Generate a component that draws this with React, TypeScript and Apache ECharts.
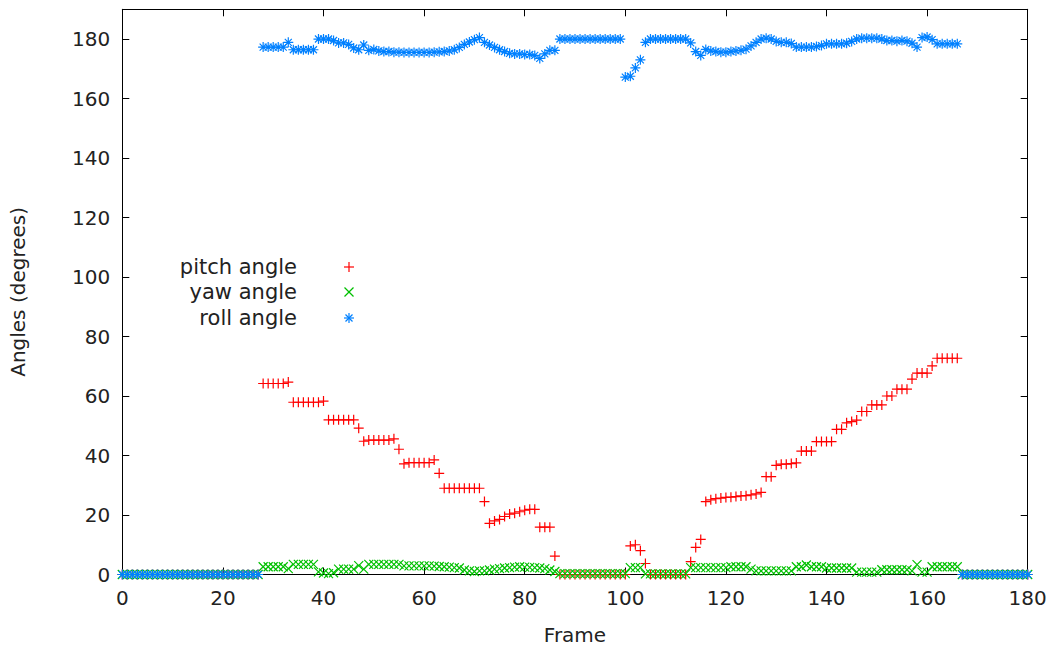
import React, { useEffect, useRef } from "react";
import * as echarts from "echarts";

// Frames 0..180
const frames: number[] = Array.from({ length: 181 }, (_, i) => i);

// pitch angle values for frames 0..180
const pitch: number[] = [
  // 0-27
  0, 0, 0, 0, 0, 0, 0, 0, 0, 0, 0, 0, 0, 0, 0, 0, 0, 0, 0, 0, 0, 0, 0, 0, 0, 0, 0, 0,
  // 28-40
  64.2, 64.2, 64.2, 64.2, 64.2, 64.7, 57.9, 57.9, 57.9, 57.9, 57.9, 57.9, 58.3,
  // 41-55
  52, 52, 52, 52, 52, 52, 49.2, 44.8, 45.2, 45.2, 45.2, 45.2, 45.2, 45.6, 42.1,
  // 56-72
  37.2, 37.6, 37.6, 37.6, 37.6, 37.6, 38.5, 34, 29, 29, 29, 29, 29, 29, 29, 29, 24.5,
  // 73-86
  17.2, 18, 18.5, 19.5, 20.3, 20.6, 21.1, 21.6, 21.9, 21.9, 15.9, 15.9, 15.9, 6.2,
  // 87-100
  0, 0, 0, 0, 0, 0, 0, 0, 0, 0, 0, 0, 0, 0,
  // 101-104
  9.6, 10, 8, 3.7,
  // 105-112
  0, 0, 0, 0, 0, 0, 0, 0,
  // 113-127
  4.3, 9.1, 11.8, 24.5, 25.1, 25.5, 25.7, 25.9, 26, 26.2, 26.4, 26.5, 26.8, 27.1, 27.6,
  // 128-146
  32.9, 32.9, 36.7, 37.1, 37.1, 37.3, 37.5, 41.5, 41.5, 41.5, 44.7, 44.7, 44.7, 44.7, 48.8, 48.8, 51, 51.4, 51.9,
  // 147-166
  54.8, 54.8, 57, 57, 57, 60, 60, 62.3, 62.3, 62.3, 65.7, 67.7, 67.7, 67.7, 70.1, 72.7, 72.7, 72.7, 72.7, 72.7,
  // 167-180
  0, 0, 0, 0, 0, 0, 0, 0, 0, 0, 0, 0, 0, 0,
];

// yaw angle values for frames 0..180
const yaw: number[] = [
  // 0-27
  0, 0, 0, 0, 0, 0, 0, 0, 0, 0, 0, 0, 0, 0, 0, 0, 0, 0, 0, 0, 0, 0, 0, 0, 0, 0, 0, 0,
  // 28-48
  2.6, 2.6, 2.6, 2.6, 2.6, 2, 3.4, 3.4, 3.4, 3.4, 3.4, 0.9, 0.5, 0.3, 0.6, 1.8, 1.8, 1.8, 1.8, 3, 1.8,
  // 49-67
  3.4, 3.4, 3.4, 3.4, 3.4, 3.4, 3.4, 2.9, 2.9, 2.9, 2.9, 2.9, 2.9, 2.8, 2.7, 2.6, 2.5, 2.3, 2.2,
  // 68-86
  1.5, 1.2, 1, 1.2, 1.2, 1.5, 1.8, 2, 2.2, 2.3, 2.5, 2.6, 2.5, 2.4, 2.3, 2.2, 2, 1.5, 1,
  // 87-100
  0.3, 0.3, 0.3, 0.3, 0.3, 0.3, 0.3, 0.3, 0.3, 0.3, 0.3, 0.3, 0.3, 0.3,
  // 101-112
  2.3, 2.3, 2.3, 0.2, 0.2, 0.2, 0.2, 0.2, 0.2, 0.2, 0.2, 0.2,
  // 113-133
  2.3, 2.3, 2.3, 2.3, 2.3, 2.3, 2.3, 2.3, 2.6, 2.6, 2.6, 2.6, 1.8, 1.2, 1.2, 1.2, 1.2, 1.2, 1.2, 1.2, 1.2,
  // 134-150
  2.6, 2.6, 3.2, 2.6, 2.6, 2.6, 2.2, 2.2, 2.2, 2.2, 2.2, 2.2, 0.8, 0.8, 0.8, 0.8, 0.8,
  // 151-166
  1.6, 1.6, 1.6, 1.6, 1.6, 1.6, 1.2, 3.3, 0.8, 0.8, 2.6, 2.6, 2.6, 2.6, 2.6, 2.6,
  // 167-180
  0, 0, 0, 0, 0, 0, 0, 0, 0, 0, 0, 0, 0, 0,
];

// roll angle values for frames 0..180
const roll: number[] = [
  // 0-27
  0, 0, 0, 0, 0, 0, 0, 0, 0, 0, 0, 0, 0, 0, 0, 0, 0, 0, 0, 0, 0, 0, 0, 0, 0, 0, 0, 0,
  // 28-48
  177.3, 177.3, 177.3, 177.3, 177.3, 178.9, 176.4, 176.4, 176.4, 176.4, 176.4, 180, 180, 180, 179.5, 178.7, 178.7, 178.2, 177, 176.4, 178,
  // 49-66
  176.2, 176.5, 176, 175.8, 175.8, 175.6, 175.6, 175.5, 175.5, 175.5, 175.5, 175.5, 175.5, 175.6, 175.7, 175.8, 176, 176.4,
  // 67-86
  177.2, 178.2, 179, 179.8, 180.5, 178.9, 178, 177.2, 176.4, 175.8, 175.2, 175, 175, 174.8, 174.8, 174.5, 173.5, 175, 176.2, 176.2,
  // 87-99
  180, 180, 180, 180, 180, 180, 180, 180, 180, 180, 180, 180, 180,
  // 100-112
  167.2, 167.5, 170.3, 173, 178.9, 180, 180, 180, 180, 180, 180, 180, 180,
  // 113-129
  178.7, 175.8, 174.5, 176.5, 176, 175.8, 175.6, 175.6, 175.8, 176, 176.2, 176.6, 177.7, 178.9, 180, 180.3, 180,
  // 130-150
  179.2, 178.9, 178.9, 178.5, 177.3, 177.3, 177.3, 177.3, 177.5, 177.8, 178.4, 178.4, 178.4, 178.4, 178.6, 179.2, 180, 180.3, 180.3, 180.3, 180.3,
  // 151-166
  180, 179.5, 179.5, 179.3, 179.5, 179.3, 178.6, 177.3, 180.5, 180.7, 179.8, 178.4, 178.4, 178.4, 178.4, 178.4,
  // 167-180
  0, 0, 0, 0, 0, 0, 0, 0, 0, 0, 0, 0, 0, 0,
];

const seriesNames = ["pitch angle", "yaw angle", "roll angle"];
const seriesColors = ["#ff0000", "#00c000", "#0080ff"];

const xTicks = { min: 0, max: 180, interval: 20 };
const yTicks = { min: 0, max: 190, interval: 20 };

const PLUS = "path://M0,5L10,5M5,0L5,10";
const CROSS = "path://M0,0L10,10M10,0L0,10";
const STAR = "path://M0,5L10,5M5,0L5,10M1.5,1.5L8.5,8.5M8.5,1.5L1.5,8.5";

const FONT = "DejaVu Sans";
const TEXT = "#222";

function legendSymbol(kind: number, cx: number, cy: number, color: string) {
  const h = 5;
  const d = 4.5;
  const st = { stroke: color, lineWidth: 1.2 };
  const lines: any[] = [];
  if (kind === 0 || kind === 2) {
    lines.push({ type: "line", shape: { x1: cx - h, y1: cy, x2: cx + h, y2: cy }, style: st });
    lines.push({ type: "line", shape: { x1: cx, y1: cy - h, x2: cx, y2: cy + h }, style: st });
  }
  if (kind === 1) {
    lines.push({ type: "line", shape: { x1: cx - d, y1: cy - d, x2: cx + d, y2: cy + d }, style: st });
    lines.push({ type: "line", shape: { x1: cx + d, y1: cy - d, x2: cx - d, y2: cy + d }, style: st });
  }
  if (kind === 2) {
    const e = 3.5;
    lines.push({ type: "line", shape: { x1: cx - e, y1: cy - e, x2: cx + e, y2: cy + e }, style: st });
    lines.push({ type: "line", shape: { x1: cx + e, y1: cy - e, x2: cx - e, y2: cy + e }, style: st });
  }
  return lines;
}

export default function App() {
  const ref = useRef<HTMLDivElement>(null);
  useEffect(() => {
    if (!ref.current) return;
    const chart = echarts.init(ref.current, undefined, { renderer: "svg" });
    const symbols = [PLUS, CROSS, STAR];
    const sizes = [10, 9, 10];
    const dataSets = [pitch, yaw, roll];

    const legendRows = [267, 292, 318];
    const graphics: any[] = [];
    seriesNames.forEach((name, i) => {
      graphics.push({
        type: "text",
        x: 297,
        y: legendRows[i],
        style: {
          text: name,
          font: `21px "${FONT}"`,
          fill: TEXT,
          align: "right",
          verticalAlign: "middle",
        },
      });
      graphics.push(...legendSymbol(i, 349, legendRows[i], seriesColors[i]));
    });

    const baseAxisLine = { show: true, lineStyle: { color: "#000", width: 1 } };
    const tick = { show: true, inside: true, length: 7, lineStyle: { color: "#000", width: 1 } };

    chart.setOption({
      animation: false,
      backgroundColor: "#fff",
      grid: { left: 122.3, right: 22.3, top: 9.3, bottom: 77.5, show: false },
      graphic: graphics,
      xAxis: [
        {
          type: "value",
          ...xTicks,
          position: "bottom",
          axisLine: { ...baseAxisLine, onZero: false },
          axisTick: tick,
          splitLine: { show: false },
          axisLabel: { fontFamily: FONT, fontSize: 20, color: TEXT, margin: 13 },
          name: "Frame",
          nameLocation: "middle",
          nameGap: 50,
          nameTextStyle: { fontFamily: FONT, fontSize: 20, color: TEXT },
        },
        {
          type: "value",
          ...xTicks,
          position: "top",
          axisLine: { ...baseAxisLine, onZero: false },
          axisTick: tick,
          splitLine: { show: false },
          axisLabel: { show: false },
        },
      ],
      yAxis: [
        {
          type: "value",
          ...yTicks,
          position: "left",
          axisLine: { ...baseAxisLine, onZero: false },
          axisTick: tick,
          splitLine: { show: false },
          axisLabel: {
            fontFamily: FONT,
            fontSize: 20,
            color: TEXT,
            margin: 12,
            formatter: (v: number) => (v > 180 ? "" : String(v)),
          },
          name: "Angles (degrees)",
          nameLocation: "middle",
          nameGap: 94,
          nameTextStyle: { fontFamily: FONT, fontSize: 20, color: TEXT },
        },
        {
          type: "value",
          ...yTicks,
          position: "right",
          axisLine: { ...baseAxisLine, onZero: false },
          axisTick: tick,
          splitLine: { show: false },
          axisLabel: { show: false },
        },
      ],
      series: seriesNames.map((name, i) => ({
        type: "scatter",
        name,
        xAxisIndex: 0,
        yAxisIndex: 0,
        symbol: symbols[i],
        symbolSize: sizes[i],
        data: frames.map((f) => [f, dataSets[i][f]]),
        itemStyle: {
          color: "rgba(0,0,0,0)",
          borderColor: seriesColors[i],
          borderWidth: 1.2,
          opacity: 1,
        },
        emphasis: { disabled: true },
        silent: true,
        z: 2 + i,
      })),
    });
    return () => chart.dispose();
  }, []);
  return (
    <div
      ref={ref}
      style={{ position: "absolute", left: 0, top: 0, width: 1050, height: 652 }}
    />
  );
}
